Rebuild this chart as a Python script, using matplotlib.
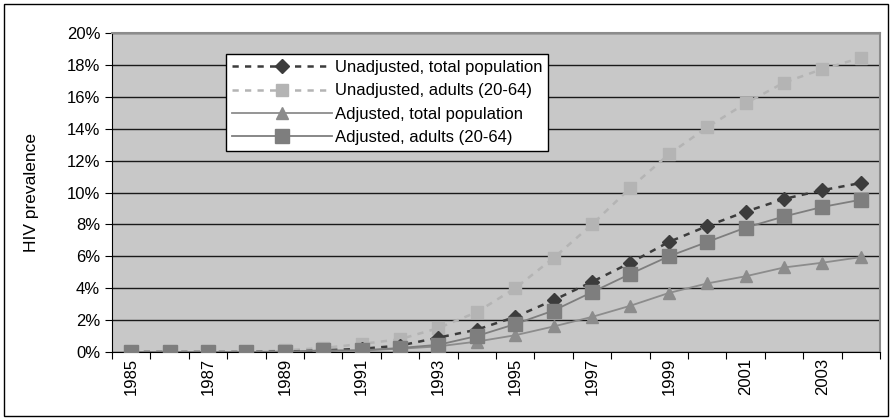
import matplotlib.pyplot as plt
from matplotlib.patches import Rectangle

plt.rcParams['font.family'] = ['Liberation Sans', 'DejaVu Sans']

years = list(range(1985, 2005))
unadj_total = [0, 0, 0, 0, 0.02, 0.1, 0.2, 0.4, 0.9, 1.4, 2.2, 3.25, 4.4, 5.6, 6.9, 7.9, 8.8, 9.6, 10.15, 10.6]
unadj_adults = [0, 0, 0, 0, 0.1, 0.25, 0.5, 0.8, 1.5, 2.5, 4.0, 5.9, 8.0, 10.3, 12.4, 14.1, 15.6, 16.9, 17.75, 18.45]
adj_total = [0, 0, 0, 0, 0.02, 0.05, 0.1, 0.2, 0.35, 0.65, 1.05, 1.6, 2.2, 2.9, 3.7, 4.3, 4.75, 5.3, 5.6, 5.95]
adj_adults = [0, 0, 0, 0, 0.02, 0.1, 0.1, 0.25, 0.45, 1.0, 1.75, 2.6, 3.75, 4.9, 6.0, 6.9, 7.8, 8.5, 9.1, 9.55]

labels = ['Unadjusted, total population', 'Unadjusted, adults (20-64)',
          'Adjusted, total population', 'Adjusted, adults (20-64)']

fig = plt.figure(figsize=(8.92, 4.2), dpi=100)
fig.patches.append(Rectangle((0.004, 0.01), 0.992, 0.98, transform=fig.transFigure,
                             fill=False, edgecolor='black', linewidth=1))
ax = fig.add_axes([0.1256, 0.162, 0.861, 0.759])
ax.set_facecolor('#c8c8c8')

x = list(range(len(years)))
ax.plot(x, unadj_total, color='#3c3c3c', linestyle=(0, (2.5, 2.5)), linewidth=1.8,
        marker='D', markersize=7, label=labels[0], zorder=4)
ax.plot(x, unadj_adults, color='#b4b4b4', linestyle=(0, (2.5, 2.5)), linewidth=1.8,
        marker='s', markersize=8, label=labels[1], zorder=3)
ax.plot(x, adj_total, color='#8c8c8c', linestyle='-', linewidth=1.3,
        marker='^', markersize=9, label=labels[2], zorder=3)
ax.plot(x, adj_adults, color='#7e7e7e', linestyle='-', linewidth=1.3,
        marker='s', markersize=10, label=labels[3], zorder=5)

ax.set_xlim(-0.5, len(years) - 0.5)
ax.set_ylim(0, 20)
yt = list(range(0, 21, 2))
ax.set_yticks(yt)
ax.set_yticklabels([f'{v}%' for v in yt], fontsize=12)
ax.yaxis.grid(True, color='#1a1a1a', linewidth=1)
ax.set_axisbelow(True)

ax.set_xticks([i - 0.5 for i in range(len(years) + 1)])
ax.set_xticklabels([])
ax.set_xticks(x[::2], minor=True)
ax.set_xticklabels([str(y) for y in years[::2]], minor=True, rotation=90, fontsize=12)
ax.tick_params(axis='x', which='minor', length=0, pad=4)
ax.tick_params(axis='x', which='major', length=5, direction='out', color='black')
ax.tick_params(axis='y', length=5, direction='out', color='black')

for s in ['top', 'right']:
    ax.spines[s].set_color('#8c8c8c')
    ax.spines[s].set_linewidth(1.5)
ax.spines['left'].set_color('black')
ax.spines['bottom'].set_color('black')

ax.set_ylabel('HIV prevalence', fontsize=12.5, labelpad=20)

leg = ax.legend(loc='upper left', bbox_to_anchor=(0.148, 0.934), fontsize=12,
                frameon=True, fancybox=False, edgecolor='black', framealpha=1,
                handlelength=6, borderpad=0.35, labelspacing=0.5, handletextpad=0.2,
                borderaxespad=0)
leg.get_frame().set_linewidth(1)

fig.savefig('out.png', dpi=100)
